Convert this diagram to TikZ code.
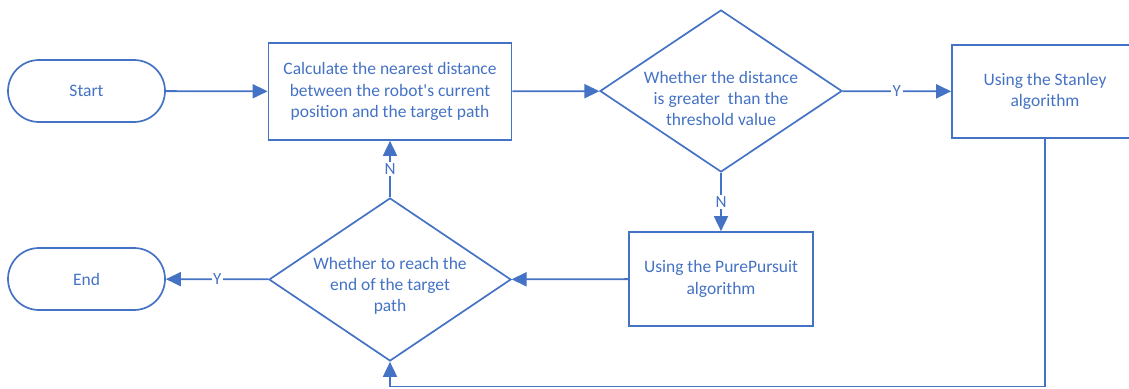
\documentclass[tikz,border=0pt]{standalone}
\usepackage{fontspec}
\setmainfont{Carlito}[Ligatures=TeXOff]
\usetikzlibrary{shapes.geometric,arrows.meta}
\definecolor{flowblue}{HTML}{4472C4}
\begin{document}
\begin{tikzpicture}[x=1pt,y=-1pt,
  every node/.style={text=flowblue,font=\fontsize{17.5}{21.3}\selectfont},
  terminal/.style={draw=flowblue,line width=1.7pt,rectangle,rounded corners=31pt,
    minimum width=157pt,minimum height=62pt,inner sep=0pt},
  procbox/.style={draw=flowblue,line width=1.7pt,rectangle,align=center,inner sep=0pt},
  decision/.style={draw=flowblue,line width=1.7pt,diamond,inner sep=0pt,
    minimum width=242pt,minimum height=162pt},
  dtext/.style={align=center,inner sep=0pt},
  flow/.style={draw=flowblue,line width=1.8pt,-{Triangle[length=15pt,width=14pt]}},
  branch/.style={fill=white,inner sep=1.5pt,font=\fontsize{17}{18}\selectfont}]
\useasboundingbox (0,0) rectangle (1129,388);

% terminals
\node[terminal] (start) at (86.5,91) {Start};
\node[terminal] (end) at (86.5,279) {End};

% processing steps
\node[procbox,minimum width=243pt,minimum height=97pt] (calc) at (390,91.5)
  {Calculate the nearest distance\\between the robot's current\\position and the target path};
\node[procbox,minimum width=186pt,minimum height=93pt] (stan) at (1045,91.5)
  {Using the Stanley\\algorithm};
\node[procbox,minimum width=184pt,minimum height=94pt] (pp) at (721,279)
  {Using the PurePursuit\\algorithm};

% decisions
\node[decision] (d1) at (721,91) {};
\node[dtext] (d1t) at (721,98.5) {Whether the distance\\is greater~ than the\\threshold value};
\node[decision,minimum height=163pt] (d2) at (390,279.5) {};
\node[dtext] (d2t) at (390,286) {Whether to reach the\\end of the target\\path};

% return path under the diagram
\coordinate (br) at (1045,386.5);
\coordinate (bl) at (390,386.5);

% connectors
\draw[flow] (start) -- (calc);
\draw[flow] (calc) -- (d1);
\draw[flow] (d1) -- node[branch] (y1) {Y} (stan);
\draw[flow] (d1) -- node[branch] (n1) {N} (pp);
\draw[flow] (pp) -- (d2);
\draw[flow] (d2) -- node[branch] (y2) {Y} (end);
\draw[flow] (d2) -- node[branch] (n2) {N} (calc);
\draw[flow] (stan.south) -- (br) -- (bl) -- (d2.south);
\end{tikzpicture}
\end{document}
